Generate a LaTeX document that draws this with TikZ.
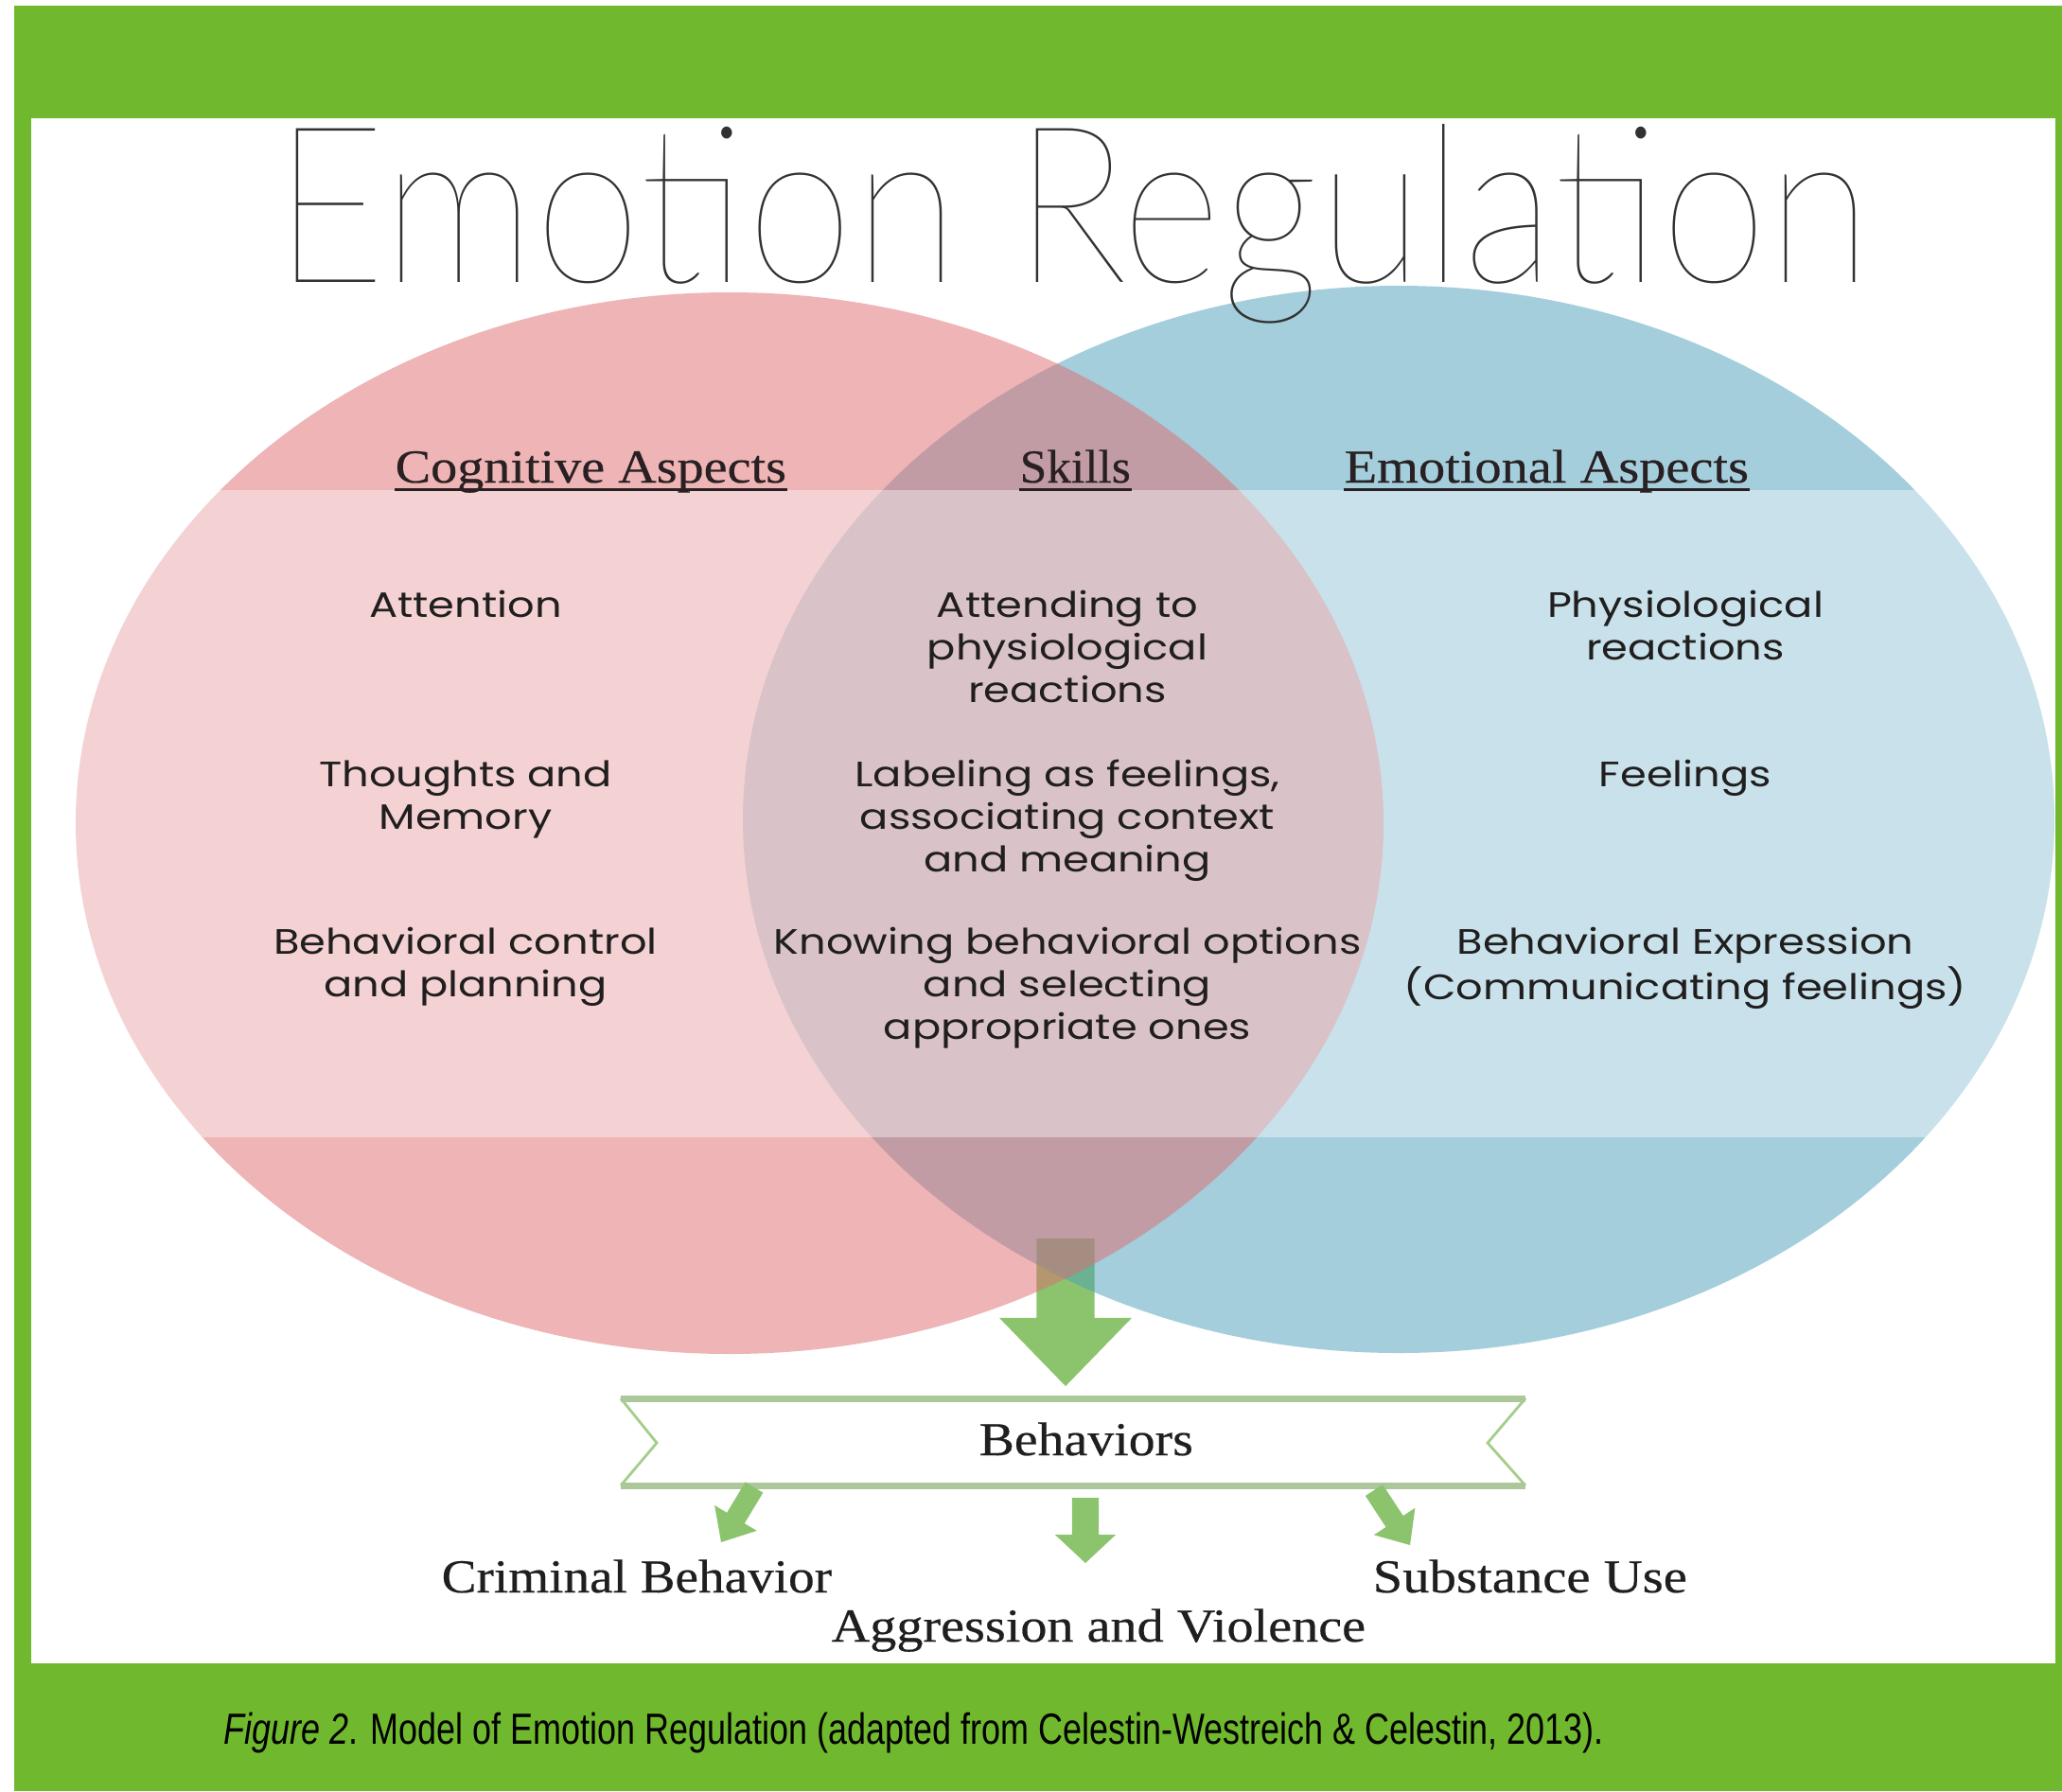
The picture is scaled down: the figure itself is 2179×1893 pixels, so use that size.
\documentclass[tikz,border=0pt]{standalone}
\usepackage{fontspec}
\usepackage{graphicx}
\usetikzlibrary{calc}
\setmainfont{Liberation Serif}
\newfontfamily\serifmed{Liberation Serif}[FakeBold=0.4]
\newfontfamily\bodyfont{Poppins}[FakeStretch=1.2]
\newfontfamily\capfont{Liberation Sans}
\IfFontExistsTF{Lato Hairline}
  {\newfontfamily\titlefont{Lato Hairline}}
  {\IfFontExistsTF{DejaVuSans-ExtraLight.ttf}
    {\newfontfamily\titlefont{DejaVuSans-ExtraLight.ttf}}
    {\newfontfamily\titlefont{Liberation Sans}}}
\definecolor{framegreen}{RGB}{112,185,46}
\definecolor{pinkc}{RGB}{223,107,111}
\definecolor{bluec}{RGB}{75,159,187}
\definecolor{arrowg}{RGB}{140,196,110}
\definecolor{bannerg}{RGB}{165,206,140}
\definecolor{bannerd}{RGB}{172,200,155}
\definecolor{titlegray}{RGB}{50,50,50}
\definecolor{bodycol}{RGB}{32,30,30}
\definecolor{hdrcol}{RGB}{40,32,34}
\newcommand\rsz[2]{\resizebox{#1cm}{\height}{#2}}
\newcommand\ml[1]{\begin{tabular}[t]{@{}c@{}}#1\end{tabular}}
\newcommand\blockarrow[5]{%
  \path ($(#2)!#5!(#1)$) coordinate (ba-h);
  \fill[arrowg] ($(#1)!#3!90:(#2)$) -- ($(ba-h)!#3!90:(#2)$) -- ($(ba-h)!#4!90:(#2)$) -- (#2)
    -- ($(ba-h)!#4!-90:(#2)$) -- ($(ba-h)!#3!-90:(#2)$) -- ($(#1)!#3!-90:(#2)$) -- cycle;}
\tikzset{
  body/.style={anchor=base, inner sep=0pt, text=bodycol, font=\bodyfont\fontsize{10.6}{12.8}\selectfont},
  hdr/.style={anchor=base west, inner sep=0pt, text=hdrcol, font=\serifmed\fontsize{14.2}{16}\selectfont},
  lbl/.style={anchor=base west, inner sep=0pt, text=bodycol, font=\serifmed\fontsize{14.2}{16}\selectfont},
  uline/.style={hdrcol, line width=0.9pt}
}
\begin{document}
\begin{tikzpicture}[x=0.01cm, y=-0.01cm]
\useasboundingbox (0,0) rectangle (2179,1893);
\fill[white] (0,0) rectangle (2179,1893);
\fill[framegreen] (15,6) rectangle (2179,1893);
\fill[white] (33,125) rectangle (2172,1758);

% big arrow (below the circles)
\coordinate (bigS) at (1126,1309);
\coordinate (bigT) at (1126,1465);
\blockarrow{bigS}{bigT}{8.7pt}{19.9pt}{20.5pt}

% circles
\begin{scope}
\clip (33,125) rectangle (2172,1758);
\fill[bluec, fill opacity=0.5] (1478,866) ellipse [x radius=693, y radius=564];
\fill[pinkc, fill opacity=0.5] (771,870) ellipse [x radius=691, y radius=561];
\fill[white, fill opacity=0.4] (33,518) rectangle (2172,1202);
\end{scope}

% title
\node[anchor=base west, inner sep=0pt, text=titlegray] (title) at (289,298)
  {\rsz{16.87}{\titlefont\fontsize{66}{70}\selectfont Emotion Regulation}};

% headers
\node[hdr] (cog) at (417,510) {\rsz{4.13}{Cognitive Aspects}};
\node[hdr] (skl) at (1077,510) {\rsz{1.17}{Skills}};
\node[hdr] (emo) at (1420,510) {\rsz{4.27}{Emotional Aspects}};
\draw[uline] ([yshift=-2.2pt]cog.base west) -- ([yshift=-2.2pt]cog.base east);
\draw[uline] ([yshift=-2.2pt]skl.base west) -- ([yshift=-2.2pt]skl.base east);
\draw[uline] ([yshift=-2.2pt]emo.base west) -- ([yshift=-2.2pt]emo.base east);

% body text
\node[body] (att) at (492,652) {\ml{Attention}};
\node[body] (tm)  at (492,831) {\ml{Thoughts and\\Memory}};
\node[body] (bc)  at (492,1008) {\ml{Behavioral control\\and planning}};
\node[body] (atp) at (1128,652) {\ml{Attending to\\physiological\\reactions}};
\node[body] (lab) at (1128,831) {\ml{Labeling as feelings,\\associating context\\and meaning}};
\node[body] (kno) at (1128,1008) {\ml{Knowing behavioral options\\and selecting\\appropriate ones}};
\node[body] (phy) at (1781,652) {\ml{Physiological\\reactions}};
\node[body] (fee) at (1781,831) {\ml{Feelings}};
\node[body] (bex) at (1781,1008) {\ml{Behavioral Expression\\(Communicating feelings)}};

% banner
\fill[white] (656,1478) -- (1612,1478) -- (1572,1525) -- (1612,1570) -- (656,1570) -- (694,1525) -- cycle;
\draw[bannerg, line width=0.8pt, line join=miter] (656,1478) -- (694,1525) -- (656,1570);
\draw[bannerg, line width=0.8pt, line join=miter] (1612,1478) -- (1572,1525) -- (1612,1570);
\draw[bannerd, line width=2pt] (656,1478) -- (1612,1478);
\draw[bannerd, line width=2pt] (656,1570) -- (1612,1570);
\node[lbl] (beh) at (1034,1538) {\rsz{2.26}{Behaviors}};

% small arrows
\coordinate (laS) at (797,1572);
\coordinate (laT) at (762,1630);
\blockarrow{laS}{laT}{3.1pt}{7.4pt}{8.5pt}
\coordinate (maS) at (1147,1583);
\coordinate (maT) at (1147,1652);
\blockarrow{maS}{maT}{4pt}{9.1pt}{8.5pt}
\coordinate (raS) at (1452,1575);
\coordinate (raT) at (1490,1633);
\blockarrow{raS}{raT}{3.1pt}{7.4pt}{8.5pt}

% outcome labels
\node[lbl] (crim) at (466,1683) {\rsz{4.12}{Criminal Behavior}};
\node[lbl] (subs) at (1450,1683) {\rsz{3.32}{Substance Use}};
\node[lbl] (aggr) at (878,1735) {\rsz{5.64}{Aggression and Violence}};

% caption
\node[anchor=base west, inner sep=0pt, text=black] (caption) at (236,1843)
  {\rsz{14.57}{\capfont\fontsize{13.1}{15}\selectfont\textit{Figure 2}. Model of Emotion Regulation (adapted from Celestin-Westreich \& Celestin, 2013).}};
\end{tikzpicture}
\end{document}
